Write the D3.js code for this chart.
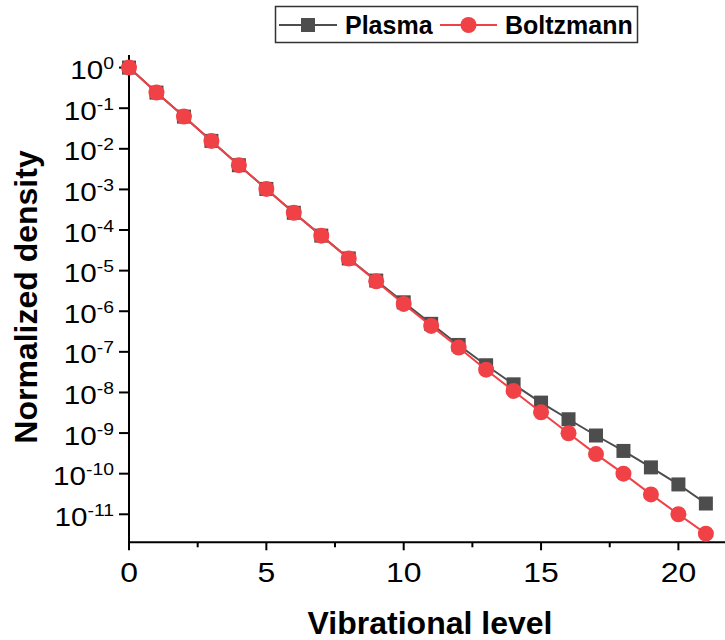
<!DOCTYPE html>
<html>
<head>
<meta charset="utf-8">
<script src="https://cdn.jsdelivr.net/npm/d3@7"></script>
<style>
  html, body { margin: 0; padding: 0; background: #fff; }
  svg { display: block; font-family: Arial, "Liberation Sans", sans-serif; }
</style>
</head>
<body>
<svg id="chart" width="725" height="640"></svg>
<script>
// Vibrational levels
const levels = d3.range(0, 22);
// log10 of normalized density
const plasmaLog = [0, -0.616, -1.207, -1.805, -2.404, -2.988, -3.575, -4.138, -4.70, -5.245,
  -5.78, -6.31, -6.83, -7.33, -7.80, -8.25, -8.66, -9.06, -9.44, -9.845, -10.265, -10.735];
const boltzLog = [0, -0.616, -1.207, -1.805, -2.404, -2.988, -3.575, -4.138, -4.704, -5.261,
  -5.82, -6.362, -6.895, -7.44, -7.963, -8.488, -9.005, -9.518, -10.0, -10.51, -11.0, -11.478];
const plasma = plasmaLog.map(v => Math.pow(10, v));
const boltzmann = boltzLog.map(v => Math.pow(10, v));
const seriesNames = ["Plasma", "Boltzmann"];
const xTicks = [0, 5, 10, 15, 20];
const xMinorTicks = [2.5, 7.5, 12.5, 17.5];
const yTickExps = d3.range(0, -12, -1); // 10^0 ... 10^-11

const svg = d3.select("#chart");
const x = d3.scaleLinear().domain([0, 22]).range([129, 129 + 22 * 27.47]);
const y = d3.scaleLog().domain([Math.pow(10, -11.69), Math.pow(10, 0.31)]).range([542.3, 55]);

const gray = "#4d4d4d";
const red = "#ef4146";
const stretch = 1.14;

// Axes
const xAxis = svg.append("g").attr("transform", "translate(0,542.3)");
xAxis.append("line").attr("x1", 128).attr("x2", 725).attr("stroke", "#000").attr("stroke-width", 2);
xAxis.selectAll(".maj").data(xTicks).enter().append("line")
  .attr("x1", d => x(d)).attr("x2", d => x(d)).attr("y1", 0).attr("y2", 8)
  .attr("stroke", "#000").attr("stroke-width", 2);
xAxis.selectAll(".min").data(xMinorTicks).enter().append("line")
  .attr("x1", d => x(d)).attr("x2", d => x(d)).attr("y1", 0).attr("y2", 5)
  .attr("stroke", "#000").attr("stroke-width", 2);
xAxis.selectAll(".lab").data(xTicks).enter().append("text")
  .attr("transform", d => `translate(${x(d)},40) scale(${stretch},1)`)
  .attr("text-anchor", "middle")
  .attr("font-size", 28).attr("fill", "#000").text(d => d);

const yAxis = svg.append("g");
yAxis.append("line").attr("x1", 129).attr("x2", 129).attr("y1", 55).attr("y2", 543.3)
  .attr("stroke", "#000").attr("stroke-width", 2);
yAxis.selectAll(".maj").data(yTickExps).enter().append("line")
  .attr("x1", 119).attr("x2", 129).attr("y1", d => y(Math.pow(10, d))).attr("y2", d => y(Math.pow(10, d)))
  .attr("stroke", "#000").attr("stroke-width", 2);
const yl = yAxis.selectAll(".lab").data(yTickExps).enter().append("text")
  .attr("transform", d => `translate(114,${y(Math.pow(10, d)) + 11.5}) scale(${stretch},1)`)
  .attr("text-anchor", "end").attr("fill", "#000");
yl.append("tspan").attr("font-size", 26).text("10");
yl.append("tspan").attr("font-size", 17).attr("dy", -10).text(d => (d === 0 ? "0" : "-" + (-d)));

// Axis titles
svg.append("text").attr("x", 430).attr("y", 634).attr("text-anchor", "middle")
  .attr("font-size", 32).attr("font-weight", "bold").attr("fill", "#000").text("Vibrational level");
svg.append("text").attr("transform", "translate(37,297) rotate(-90)").attr("text-anchor", "middle")
  .attr("font-size", 32).attr("font-weight", "bold").attr("fill", "#000").text("Normalized density");

// Series
const line = d3.line().x((d, i) => x(levels[i])).y(d => y(d));
svg.append("path").datum(plasma).attr("d", line).attr("fill", "none").attr("stroke", gray).attr("stroke-width", 2);
svg.selectAll(".sq").data(plasma).enter().append("rect")
  .attr("x", (d, i) => x(levels[i]) - 7).attr("y", d => y(d) - 7)
  .attr("width", 14).attr("height", 14).attr("fill", gray);
svg.append("path").datum(boltzmann).attr("d", line).attr("fill", "none").attr("stroke", red).attr("stroke-width", 2);
svg.selectAll(".ci").data(boltzmann).enter().append("circle")
  .attr("cx", (d, i) => x(levels[i])).attr("cy", d => y(d)).attr("r", 8).attr("fill", red);

// Legend
const lg = svg.append("g");
lg.append("rect").attr("x", 275.5).attr("y", 6.5).attr("width", 362).attr("height", 36)
  .attr("fill", "#fff").attr("stroke", "#333").attr("stroke-width", 1.5);
lg.append("line").attr("x1", 279).attr("x2", 337).attr("y1", 25).attr("y2", 25).attr("stroke", gray).attr("stroke-width", 2);
lg.append("rect").attr("x", 301).attr("y", 18).attr("width", 14).attr("height", 14).attr("fill", gray);
lg.append("text").attr("x", 345).attr("y", 34).attr("font-size", 25).attr("font-weight", "bold").attr("fill", "#000").text(seriesNames[0]);
lg.append("line").attr("x1", 440).attr("x2", 497).attr("y1", 25).attr("y2", 25).attr("stroke", red).attr("stroke-width", 2);
lg.append("circle").attr("cx", 468.5).attr("cy", 25).attr("r", 8).attr("fill", red);
lg.append("text").attr("x", 505).attr("y", 34).attr("font-size", 25).attr("font-weight", "bold").attr("fill", "#000").text(seriesNames[1]);
</script>
</body>
</html>
